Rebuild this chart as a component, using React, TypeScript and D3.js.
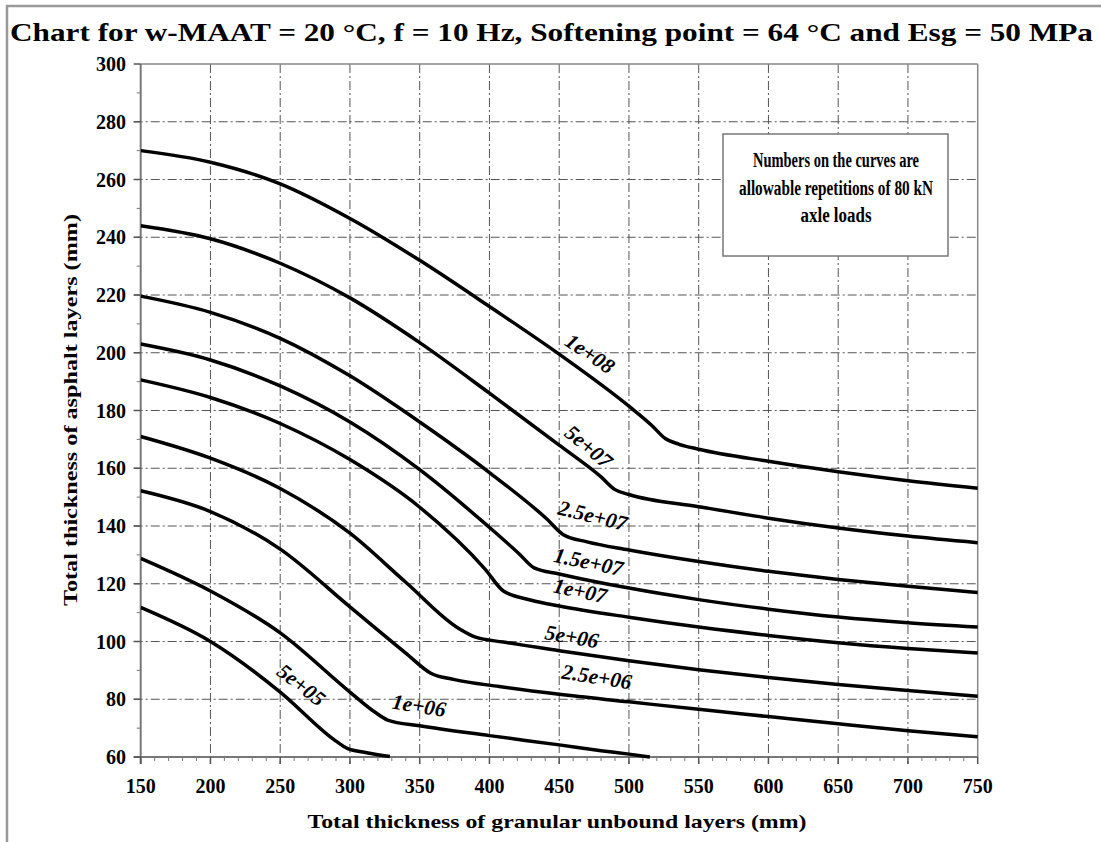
import React from 'react';
import * as d3 from 'd3';

const W = 1101;
const H = 842;

const xTicks = [150, 200, 250, 300, 350, 400, 450, 500, 550, 600, 650, 700, 750];
const yTicks = [60, 80, 100, 120, 140, 160, 180, 200, 220, 240, 260, 280, 300];

const titleText = 'Chart for w-MAAT = 20 °C, f = 10 Hz, Softening point = 64 °C and Esg = 50 MPa';
const xTitle = 'Total thickness of granular unbound layers (mm)';
const yTitle = 'Total thickness of asphalt layers (mm)';
const noteLines = ['Numbers on the curves are', 'allowable repetitions of 80 kN', 'axle loads'];
const noteWidths = [166, 194, 71];

const curveNames = ['1e+08', '5e+07', '2.5e+07', '1.5e+07', '1e+07', '5e+06', '2.5e+06', '1e+06', '5e+05'];

const c1e08: [number, number][] = [[150, 270], [200, 266], [250, 258.5], [300, 246.5], [350, 232], [400, 216], [450, 199.5], [500, 181.5], [516, 175], [526, 170.3], [536, 168.3], [550, 166.6], [600, 162.4], [650, 158.8], [700, 155.7], [750, 153.1]];
const c5e07: [number, number][] = [[150, 244], [200, 239.5], [250, 231], [300, 219], [350, 203.5], [400, 186], [450, 168], [480, 157], [490, 152.6], [500, 150.9], [550, 146.7], [600, 142.7], [650, 139.3], [700, 136.5], [750, 134.2]];
const c25e07: [number, number][] = [[150, 219.6], [200, 214], [250, 205], [300, 192], [350, 176], [400, 158.5], [441, 142.5], [453, 137], [470, 134.5], [500, 131.7], [550, 127.7], [600, 124.3], [650, 121.5], [700, 119.1], [750, 117]];
const c15e07: [number, number][] = [[150, 203], [200, 197.5], [250, 188.5], [300, 176], [350, 159.5], [400, 139.5], [421, 130.5], [432, 125.5], [450, 123.4], [500, 118.5], [550, 114.5], [600, 111.2], [650, 108.5], [700, 106.5], [750, 105]];
const c1e07: [number, number][] = [[150, 190.6], [200, 184.5], [250, 175.5], [300, 163], [350, 146.5], [397, 125], [410, 117.5], [430, 114.3], [450, 112.3], [500, 108.4], [550, 105], [600, 102.1], [650, 99.6], [700, 97.6], [750, 96]];
const c5e06: [number, number][] = [[150, 171], [200, 163.5], [250, 153], [300, 137.5], [340, 120.5], [378, 104.5], [390, 101.5], [410, 99.8], [450, 96.8], [500, 93.3], [550, 90.2], [600, 87.5], [650, 85.1], [700, 83], [750, 81]];
const c25e06: [number, number][] = [[150, 152.2], [200, 145], [250, 132], [300, 112], [340, 96], [358, 89], [375, 86.8], [407, 84.4], [450, 81.7], [500, 79.1], [550, 76.5], [600, 74], [650, 71.5], [700, 69.1], [750, 67]];
const c1e06: [number, number][] = [[150, 128.8], [200, 117.5], [250, 103], [300, 82.5], [318, 75.5], [327, 72.8], [350, 70.8], [400, 67.4], [450, 64.2], [480, 62.2], [500, 61], [515, 60]];
const c5e05: [number, number][] = [[150, 111.8], [200, 100], [250, 82.5], [290, 65.5], [298, 63], [312, 61.5], [328.6, 60.2]];

const curves = [c1e08, c5e07, c25e07, c15e07, c1e07, c5e06, c25e06, c1e06, c5e05];

// label anchor (data coords) and rotation in degrees
const labelAnchors: [number, number, number][] = [
  [472, 199.6, 34],
  [471, 167.4, 40],
  [474, 143.5, 14],
  [471, 127.5, 12],
  [465, 117.5, 12],
  [459, 101.6, 10],
  [477, 87.7, 9],
  [349.5, 77.7, 9],
  [265, 84.9, 38],
];

const FONT = "'Liberation Serif', 'Times New Roman', serif";

export default function App() {
  const left = 140.7, right = 977.7, top = 64, bottom = 757;
  const x = d3.scaleLinear().domain([150, 750]).range([left, right]);
  const y = d3.scaleLinear().domain([60, 300]).range([bottom, top]);
  const line = d3.line<[number, number]>().x(d => x(d[0])).y(d => y(d[1])).curve(d3.curveMonotoneX);

  const xMinor = d3.range(160, 750, 10).filter(v => v % 50 !== 0);
  const yMinor = d3.range(70, 300, 20);
  const gridStyle = { stroke: '#555', strokeWidth: 1, strokeDasharray: '9,3,2,3' };

  return (
    <svg width={W} height={H} style={{ position: 'absolute', left: 0, top: 0, background: '#fff', fontFamily: FONT }}>
      <rect x={0} y={0} width={W} height={H} fill="#fff" />
      {/* outer frame */}
      <path d={`M7,${H} V6 H${W}`} fill="none" stroke="#999" strokeWidth={2.5} />
      <text x={10} y={41} fontSize={26} fontWeight="bold" textLength={1083} lengthAdjust="spacingAndGlyphs">{titleText}</text>

      {/* grid */}
      {xTicks.slice(1, -1).map(v => (
        <line key={'gx' + v} x1={x(v)} x2={x(v)} y1={top} y2={bottom + 7} {...gridStyle} />
      ))}
      {yTicks.slice(1, -1).map(v => (
        <line key={'gy' + v} x1={left - 7} x2={right} y1={y(v)} y2={y(v)} {...gridStyle} />
      ))}
      {/* border */}
      <line x1={left} x2={right} y1={top} y2={top} stroke="#888" strokeWidth={1.5} />
      <line x1={right} x2={right} y1={top} y2={bottom} stroke="#888" strokeWidth={1.5} />
      <line x1={left} x2={left} y1={top} y2={bottom + 7} stroke="#777" strokeWidth={2} />
      <line x1={left - 7} x2={right} y1={bottom} y2={bottom} stroke="#777" strokeWidth={2} />
      {/* ticks */}
      {xTicks.map(v => (
        <line key={'tx' + v} x1={x(v)} x2={x(v)} y1={bottom} y2={bottom + 7} stroke="#555" strokeWidth={1.5} />
      ))}
      {xMinor.map(v => (
        <line key={'mx' + v} x1={x(v)} x2={x(v)} y1={bottom} y2={bottom + 4} stroke="#777" strokeWidth={1} />
      ))}
      {yTicks.map(v => (
        <line key={'ty' + v} x1={left - 7} x2={left} y1={y(v)} y2={y(v)} stroke="#555" strokeWidth={1.5} />
      ))}
      {yMinor.map(v => (
        <line key={'my' + v} x1={left - 4} x2={left} y1={y(v)} y2={y(v)} stroke="#777" strokeWidth={1} />
      ))}

      {/* tick labels */}
      {xTicks.map(v => (
        <text key={'lx' + v} x={x(v)} y={bottom + 36} fontSize={20} fontWeight="bold" textAnchor="middle">{v}</text>
      ))}
      {yTicks.map(v => (
        <text key={'ly' + v} x={126} y={y(v) + 7} fontSize={20} fontWeight="bold" textAnchor="end">{v}</text>
      ))}

      {/* axis titles */}
      <text x={557} y={828} fontSize={19} fontWeight="bold" textAnchor="middle" textLength={499} lengthAdjust="spacingAndGlyphs">{xTitle}</text>
      <text transform={`translate(77,410) rotate(-90)`} fontSize={19} fontWeight="bold" textAnchor="middle" textLength={392} lengthAdjust="spacingAndGlyphs">{yTitle}</text>

      {/* legend note */}
      <rect x={723} y={134} width={225} height={122} fill="#fff" stroke="#777" strokeWidth={1.5} />
      {noteLines.map((t, i) => (
        <text key={'n' + i} x={836} y={167 + i * 27.5} fontSize={20} fontWeight="bold" textAnchor="middle" textLength={noteWidths[i]} lengthAdjust="spacingAndGlyphs">{t}</text>
      ))}

      {/* curves */}
      <defs>
        <clipPath id="plotclip">
          <rect x={left} y={top} width={right - left + 2} height={bottom - top + 2} />
        </clipPath>
      </defs>
      <g clipPath="url(#plotclip)">
        {curves.map((c, i) => (
          <path key={'c' + i} d={line(c) || ''} fill="none" stroke="#000" strokeWidth={3.5} strokeLinejoin="round" />
        ))}
      </g>

      {curveNames.map((n, i) => {
        const [lx, ly, a] = labelAnchors[i];
        return (
          <text key={'cl' + i} transform={`translate(${x(lx)},${y(ly)}) rotate(${a})`} fontSize={21.5} fontWeight="bold" fontStyle="italic" textAnchor="middle" dominantBaseline="central">{n}</text>
        );
      })}
    </svg>
  );
}
